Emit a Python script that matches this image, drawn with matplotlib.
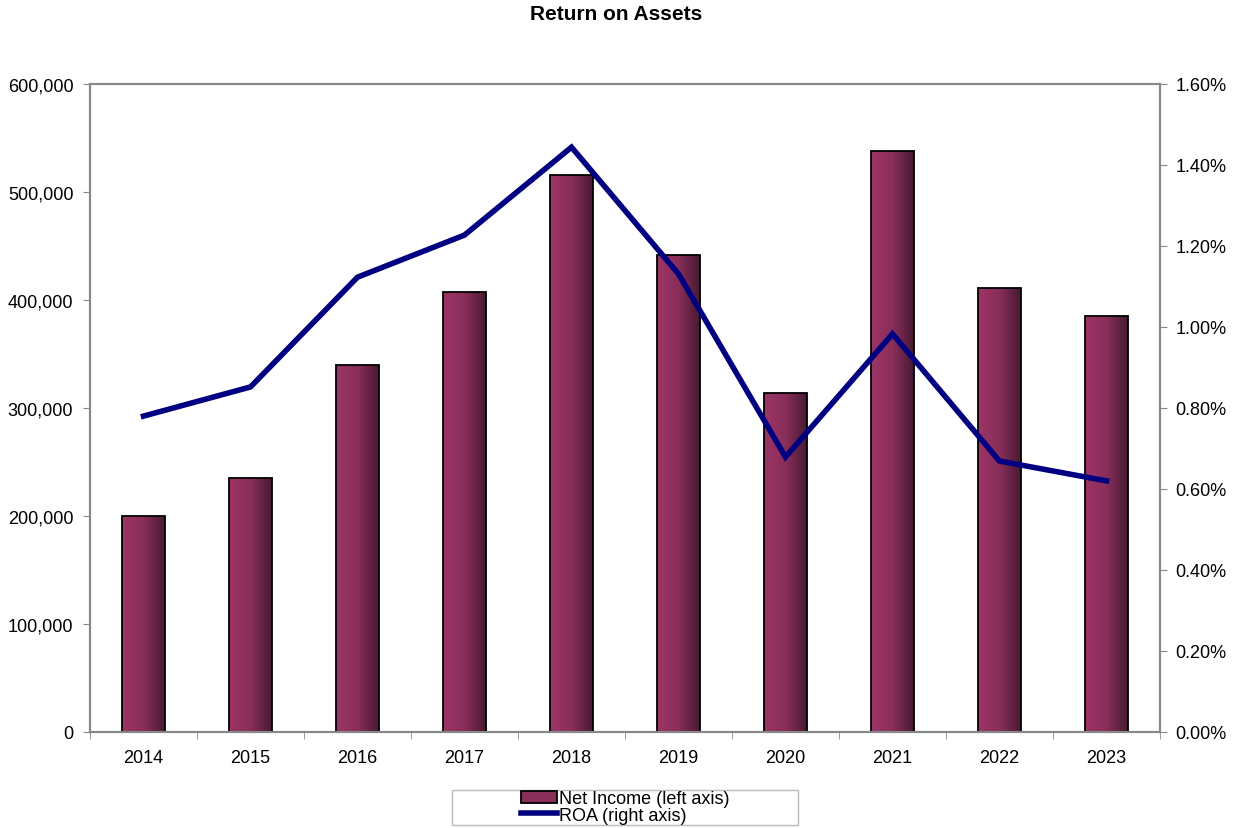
import matplotlib as mpl
import matplotlib.pyplot as plt
import numpy as np
from matplotlib.colors import LinearSegmentedColormap
from matplotlib.patches import Patch, Rectangle
from matplotlib.lines import Line2D

mpl.rcParams['font.family'] = ['Liberation Sans', 'DejaVu Sans']

years = ['2014', '2015', '2016', '2017', '2018', '2019', '2020', '2021', '2022', '2023']
net_income = [200000, 235000, 340000, 407000, 516000, 442000, 314000, 538000, 411000, 385000]
roa = [0.78, 0.852, 1.123, 1.227, 1.444, 1.131, 0.679, 0.983, 0.669, 0.62]

W, H = 1233, 829
fig = plt.figure(figsize=(W / 100, H / 100), dpi=100)
ax = fig.add_axes([90 / W, 1 - 733 / H, 1070 / W, 648 / H])
ax2 = ax.twinx()

x = np.arange(len(years))
w = 0.4
cmap = LinearSegmentedColormap.from_list('bar', ['#9c3566', '#8a2e5a', '#461a32'])
grad = np.linspace(0, 1, 256).reshape(1, -1)

bars = ax.bar(x, net_income, width=w, facecolor='none', edgecolor='black', linewidth=1.3, zorder=3)
for b in bars:
    im = ax.imshow(grad, cmap=cmap, aspect='auto', zorder=2,
                   extent=[b.get_x(), b.get_x() + b.get_width(), 0, b.get_height()])
    im.set_clip_path(b)

ax.set_xlim(-0.5, len(years) - 0.5)
ax.set_ylim(0, 600000)
ax.set_yticks(np.arange(0, 600001, 100000))
ax.yaxis.set_major_formatter(mpl.ticker.FuncFormatter(lambda v, p: f'{int(v):,}'))
ax.set_xticks(x)
ax.set_xticklabels(years)
ax.set_xticks(np.arange(-0.5, len(years), 1), minor=True)
ax.tick_params(axis='x', which='major', length=0, pad=12, labelsize=13)
ax.tick_params(axis='x', which='minor', length=5, color='#888888', direction='out')
ax.tick_params(axis='y', length=5, color='#888888', labelsize=13, pad=7)

ax2.plot(x, roa, color='#000080', linewidth=4, zorder=4, solid_joinstyle='miter')
ax2.set_ylim(0, 1.6)
ax2.set_yticks(np.arange(0, 1.61, 0.2))
ax2.yaxis.set_major_formatter(mpl.ticker.FuncFormatter(lambda v, p: f'{v:.2f}%'))
ax2.tick_params(axis='y', length=5, color='#888888', labelsize=13, pad=6)

for a in (ax, ax2):
    for s in a.spines.values():
        s.set_color('#888888')
        s.set_linewidth(1.5)

fig.suptitle('Return on Assets', fontsize=15, fontweight='bold', y=1 - 14 / H, va='center')

# legend frame drawn separately (wider than the entries)
fig.patches.append(Rectangle((452 / W, 1 - 826 / H), 346 / W, 35 / H, transform=fig.transFigure,
                             facecolor='white', edgecolor='#bbbbbb', linewidth=1))
handles = [Patch(facecolor='#8a2e5a', edgecolor='black', linewidth=1.3),
           Line2D([0], [0], color='#000080', linewidth=4)]
leg = fig.legend(handles, ['Net Income (left axis)', 'ROA (right axis)'],
                 loc='center', bbox_to_anchor=(625 / W, 1 - 808 / H), ncol=1,
                 frameon=False, fontsize=13, handlelength=2.0,
                 handletextpad=0.1, borderpad=0.1, labelspacing=-0.05,
                 borderaxespad=0)

fig.savefig('out.png', dpi=100)
